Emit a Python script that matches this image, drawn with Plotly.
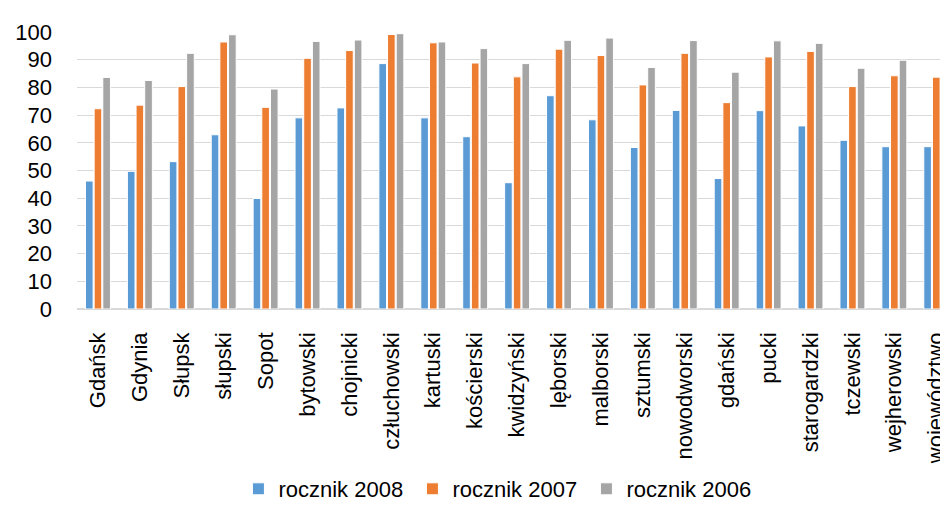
import plotly.graph_objects as go

categories = ["Gdańsk", "Gdynia", "Słupsk", "słupski", "Sopot", "bytowski", "chojnicki",
              "człuchowski", "kartuski", "kościerski", "kwidzyński", "lęborski", "malborski",
              "sztumski", "nowodworski", "gdański", "pucki", "starogardzki", "tczewski",
              "wejherowski", "województwo"]

rocznik_2008 = [46.2, 49.7, 53.2, 62.9, 39.9, 69.0, 72.6, 88.6, 69.0, 62.2, 45.6, 77.0, 68.3,
                58.3, 71.7, 47.1, 71.6, 66.1, 60.9, 58.6, 58.6]
rocznik_2007 = [72.3, 73.6, 80.3, 96.4, 72.8, 90.5, 93.3, 99.1, 96.1, 88.8, 83.8, 93.8, 91.5,
                80.9, 92.3, 74.5, 91.0, 93.0, 80.3, 84.2, 83.7]
rocznik_2006 = [83.6, 82.5, 92.3, 99.0, 79.4, 96.6, 97.1, 99.4, 96.4, 94.0, 88.6, 97.0, 97.8,
                87.2, 96.9, 85.5, 96.8, 95.9, 86.9, 89.8, 90.3]

series = [("rocznik 2008", rocznik_2008, "#5B9BD5"),
          ("rocznik 2007", rocznik_2007, "#ED7D31"),
          ("rocznik 2006", rocznik_2006, "#A5A5A5")]

y_ticks = list(range(0, 101, 10))

fig = go.Figure()
for name, vals, color in series:
    fig.add_trace(go.Bar(x=categories, y=vals, name=name,
                         marker=dict(color=color, line=dict(color="white", width=1))))

font = "Liberation Sans, Arial, sans-serif"
fig.update_layout(
    template="none",
    width=940, height=502,
    margin=dict(l=69, r=0, t=24, b=188),
    paper_bgcolor="white", plot_bgcolor="white",
    barmode="group", bargap=0.38, bargroupgap=0.12,
    font=dict(family=font, color="black", size=22),
    showlegend=True,
    legend=dict(orientation="h", x=0.485, xanchor="center", y=-0.65, yanchor="middle",
                font=dict(family=font, size=22, color="black"),
                entrywidth=129, entrywidthmode="pixels",
                traceorder="normal"),
    xaxis=dict(range=[-0.5, 20.28], tickangle=-90, showgrid=False, showline=False,
               zeroline=False, automargin=False, ticklabeloverflow="allow",
               tickfont=dict(family=font, size=22, color="black"),
               ticks="", ticklabelstandoff=18, fixedrange=True),
    yaxis=dict(range=[0, 100], tickvals=y_ticks, showgrid=True, gridcolor="#D9D9D9",
               gridwidth=1.3, zeroline=True, zerolinecolor="#D9D9D9", zerolinewidth=1.5,
               showline=False, ticks="", ticklabelstandoff=24, automargin=False,
               tickfont=dict(family=font, size=22, color="black"), fixedrange=True),
)

fig.write_html("out.html")
